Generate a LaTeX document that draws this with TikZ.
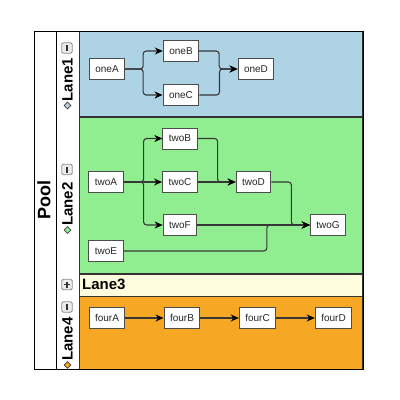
\documentclass[tikz,border=0pt]{standalone}
\usepackage{fontspec}
\setmainfont{Liberation Sans}
\usetikzlibrary{arrows.meta,shapes.geometric}
\definecolor{laneblue}{RGB}{173,211,229}
\definecolor{lanegreen}{RGB}{144,238,144}
\definecolor{laneyellow}{RGB}{255,255,224}
\definecolor{laneorange}{RGB}{246,168,36}
\definecolor{edgegray}{RGB}{55,55,55}
\begin{document}
\begin{tikzpicture}[x=1pt,y=-1pt,
  box/.style={draw=black!70, line width=1pt, fill=white, inner xsep=6pt, inner ysep=0pt,
    minimum height=21pt, font=\fontsize{10}{12}\selectfont, text=black!85},
  conn/.style={draw=edgegray, line width=1.1pt, rounded corners=3pt,
    -{Stealth[length=8pt,width=7pt,inset=2.5pt,black]}},
  lanebox/.style={draw=black!80, line width=0.9pt},
  btn/.style={draw=black!45, line width=0.8pt, fill=black!8, rounded corners=1.5pt, minimum size=10.5pt, inner sep=0pt},
  btnline/.style={draw=black!80, line width=1.1pt},
  lanelbl/.style={font=\fontsize{15}{17}\bfseries\selectfont, inner sep=0pt},
  dmd/.style={diamond, draw=black!75, line width=0.7pt, inner sep=0pt, minimum size=7pt}]
\useasboundingbox (0,0) rectangle (400,400);
\fill[white] (0,0) rectangle (400,400);
% lanes
\path[lanebox, fill=laneblue] (79,31) rectangle (362,116);
\path[lanebox, fill=lanegreen] (79,117) rectangle (362,273);
\path[lanebox, fill=laneyellow] (79,274) rectangle (362,296);
\path[lanebox, fill=laneorange] (79,296) rectangle (362,369);
% pool frame
\draw[black, line width=0.9pt] (34,31) rectangle (363,369);
\draw[black, line width=0.9pt] (56,31) -- (56,369);
\node[font=\fontsize{18}{20}\bfseries\selectfont, rotate=90, inner sep=0pt] (pool) at (44,200) {Pool};
% lane headers
\node[btn] (b1) at (67,48) {};
\draw[btnline] ([yshift=-3pt]b1.center) -- ([yshift=3pt]b1.center);
\node[lanelbl, rotate=90, anchor=west] (l1) at (67.5,101.5) {Lane1};
\node[dmd, fill=laneblue] (d1) at (67.5,105.5) {};
\node[btn] (b2) at (67,169.5) {};
\draw[btnline] ([yshift=-3pt]b2.center) -- ([yshift=3pt]b2.center);
\node[lanelbl, rotate=90, anchor=west] (l2) at (67.5,226) {Lane2};
\node[dmd, fill=lanegreen] (d2) at (67.5,230) {};
\node[btn] (b3) at (67,284.5) {};
\draw[btnline] ([yshift=-3pt]b3.center) -- ([yshift=3pt]b3.center);
\draw[btnline] ([xshift=-3pt]b3.center) -- ([xshift=3pt]b3.center);
\node[lanelbl, anchor=west] (l3) at (82,284) {Lane3};
\node[btn] (b4) at (67,307) {};
\draw[btnline] ([yshift=-3pt]b4.center) -- ([yshift=3pt]b4.center);
\node[lanelbl, rotate=90, anchor=west] (l4) at (67.5,361) {Lane4};
\node[dmd, fill=laneorange] (d4) at (67.5,365) {};
% Lane1 nodes
\node[box] (oneA) at (107,69) {oneA};
\node[box] (oneB) at (181,51) {oneB};
\node[box] (oneC) at (181,95) {oneC};
\node[box] (oneD) at (256,69) {oneD};
% Lane2 nodes
\node[box] (twoA) at (106,182) {twoA};
\node[box] (twoB) at (180,138.5) {twoB};
\node[box] (twoC) at (180,182) {twoC};
\node[box] (twoF) at (180,225) {twoF};
\node[box] (twoE) at (106,251) {twoE};
\node[box] (twoD) at (253.5,182) {twoD};
\node[box] (twoG) at (328,225) {twoG};
% Lane4 nodes
\node[box] (fourA) at (107,318) {fourA};
\node[box] (fourB) at (182,318) {fourB};
\node[box] (fourC) at (257.5,318) {fourC};
\node[box] (fourD) at (333.5,318) {fourD};
% connectors lane1
\draw[conn] (oneA.east) -- ++(18,0) |- (oneB.west);
\draw[conn] (oneA.east) -- ++(18,0) |- (oneC.west);
\draw[conn] (oneB.east) -- ++(20,0) |- (oneD.west);
\draw[conn] (oneC.east) -- ++(20,0) |- (oneD.west);
% connectors lane2
\draw[conn] (twoA.east) -- ++(20,0) |- (twoB.west);
\draw[conn] (twoA.east) -- (twoC.west);
\draw[conn] (twoA.east) -- ++(20,0) |- (twoF.west);
\draw[conn] (twoB.east) -- ++(20,0) |- (twoD.west);
\draw[conn] (twoC.east) -- (twoD.west);
\draw[conn] (twoD.east) -- ++(20,0) |- (twoG.west);
\draw[conn] (twoF.east) -- (twoG.west);
\draw[conn] (twoE.east) -| ([xshift=-43pt]twoG.west) -- (twoG.west);
% connectors lane4
\draw[conn] (fourA.east) -- (fourB.west);
\draw[conn] (fourB.east) -- (fourC.west);
\draw[conn] (fourC.east) -- (fourD.west);
\end{tikzpicture}
\end{document}
